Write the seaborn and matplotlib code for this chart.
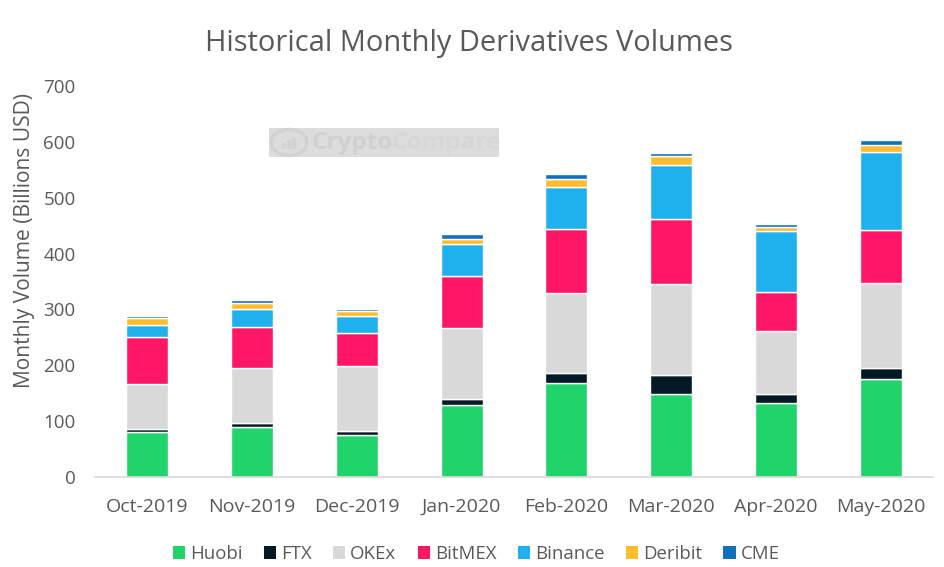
#!/usr/bin/env python3
import numpy as np
import pandas as pd
import matplotlib
matplotlib.use("Agg")
import matplotlib.pyplot as plt
from matplotlib.patches import Ellipse, Patch, Rectangle
import seaborn as sns

MONTHS = ["Oct-2019", "Nov-2019", "Dec-2019", "Jan-2020", "Feb-2020", "Mar-2020", "Apr-2020", "May-2020"]

# monthly volume per exchange, billions USD
huobi = [81, 89, 76, 129, 169, 149, 133, 176]
ftx = [5, 7, 6, 11, 17, 34, 15, 19]
okex = [80, 99, 116, 127, 144, 162, 113, 153]
bitmex = [85, 73, 60, 93, 114, 116, 70, 95]
binance = [22, 33, 31, 57, 75, 98, 109, 139]
deribit = [12, 10, 8, 9, 14, 15, 8, 13]
cme = [4, 5, 4, 9, 10, 6, 5, 8]

NAMES = ["Huobi", "FTX", "OKEx", "BitMEX", "Binance", "Deribit", "CME"]
COLORS = ["#20d46b", "#021a23", "#d9d9d9", "#ff1667", "#1fb1ee", "#ffbd2e", "#0f70bc"]
TEXT = "#595959"

sns.set_theme(style="white")
plt.rcParams["font.family"] = ["Open Sans", "DejaVu Sans"]

df = pd.DataFrame(
    dict(zip(NAMES, [huobi, ftx, okex, bitmex, binance, deribit, cme])),
    index=MONTHS,
)

fig = plt.figure(figsize=(9.45, 5.67), dpi=100)
ax = fig.add_axes([95 / 945, 1 - 477 / 567, 838 / 945, 391 / 567])

bottom = np.zeros(len(MONTHS))
for name, color in zip(NAMES, COLORS):
    sns.barplot(x=MONTHS, y=df[name].values, bottom=bottom, color=color,
                width=0.4, saturation=1, ax=ax)
    bottom += df[name].values

ax.set_xlim(-0.5, 7.5)
ax.set_ylim(0, 700)
ax.set_yticks(range(0, 701, 100))
ax.tick_params(axis="both", length=0, labelcolor=TEXT)
ax.tick_params(axis="x", pad=15, labelsize=14)
ax.tick_params(axis="y", pad=14, labelsize=13.5)
ax.set_xlabel("")
ax.set_ylabel("")
sns.despine(ax=ax, left=True)
ax.spines["bottom"].set_color("#d9d9d9")
ax.spines["bottom"].set_linewidth(1.2)

fig.text(25 / 945, 1 - 241 / 567, "Monthly Volume (Billions USD)", fontsize=15.1,
         color=TEXT, rotation=90, ha="center", va="center")
fig.text(468.5 / 945, 1 - 43 / 567, "Historical Monthly Derivatives Volumes",
         fontsize=20.9, color=TEXT, ha="center", va="center")

# watermark
fig.add_artist(Rectangle((269 / 945, 1 - 157 / 567), 230 / 945, 29 / 567,
                         transform=fig.transFigure, facecolor="#dcdcdc", edgecolor="none"))
fig.add_artist(Ellipse((289 / 945, 1 - 142.5 / 567), 36 / 945, 26 / 567,
                       transform=fig.transFigure, facecolor="none",
                       edgecolor="#d2d2d2", linewidth=2.5))
for x0, h in [(282, 6), (287, 9), (292, 12)]:
    fig.add_artist(Rectangle((x0 / 945, 1 - 149 / 567), 4 / 945, h / 567,
                             transform=fig.transFigure, facecolor="#d2d2d2", edgecolor="none"))
fig.text(312 / 945, 1 - 143 / 567, "Crypto", fontsize=17.5, fontweight="bold",
         color="#d0d0d0", ha="left", va="center")
fig.text(392 / 945, 1 - 143 / 567, "Compare", fontsize=17.5, fontweight="bold",
         color="#d6d6d6", ha="left", va="center")

handles = [Patch(facecolor=c, edgecolor="none") for c in COLORS]
leg = fig.legend(handles, NAMES, ncol=7, loc="center", bbox_to_anchor=(476 / 945, 1 - 554 / 567),
                 frameon=False, fontsize=13.4, handlelength=0.67, handleheight=0.67,
                 handletextpad=0.25, columnspacing=1.15, labelcolor=TEXT)

fig.savefig("out.png", dpi=100)
